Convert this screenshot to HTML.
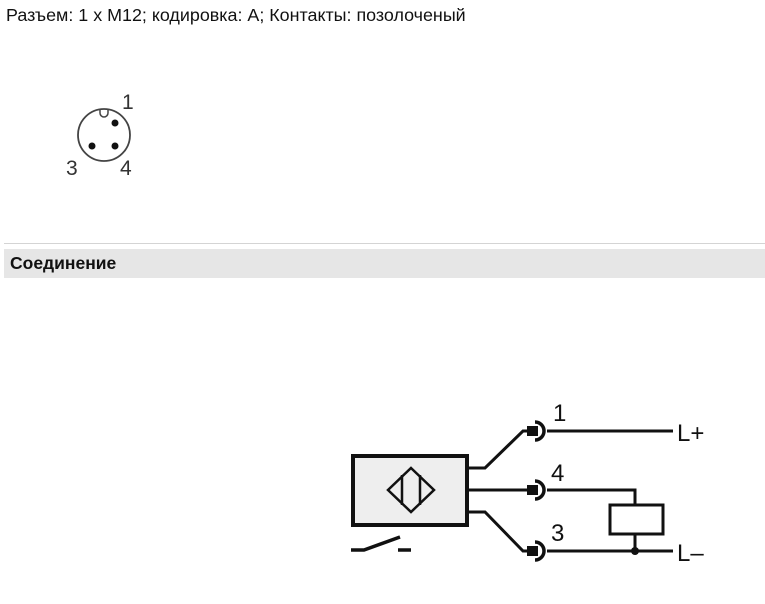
<!DOCTYPE html>
<html><head><meta charset="utf-8"><style>
body{margin:0;width:765px;height:604px;background:#fff;position:relative;overflow:hidden;font-family:"Liberation Sans",sans-serif;}
.t{position:absolute;left:6px;top:5px;font-size:17.9px;color:#111;white-space:nowrap;}
.hr{position:absolute;left:4px;right:0;top:243px;height:1px;background:#d4d4d4;}
.bar{position:absolute;left:4px;right:0;top:249px;height:29px;background:#e6e6e6;}
.bar span{position:absolute;left:6px;top:4px;font-size:17.5px;font-weight:bold;color:#111;}
svg{position:absolute;left:0;top:0;}
</style></head><body>
<div class="t">Разъем: 1 x M12; кодировка: A; Контакты: позолоченый</div>
<div class="hr"></div>
<div class="bar"><span>Соединение</span></div>
<svg width="765" height="604" font-family="Liberation Sans, sans-serif" fill="none" stroke="#111">
<circle cx="104" cy="135" r="26" stroke="#444" stroke-width="1.8"/>
<path d="M100,110 v3 a4,4 0 0 0 8,0 v-3" stroke="#444" stroke-width="1.5" fill="#fff"/>
<circle cx="115" cy="123" r="3.5" fill="#111" stroke="none"/>
<circle cx="92" cy="146" r="3.5" fill="#111" stroke="none"/>
<circle cx="115" cy="146" r="3.5" fill="#111" stroke="none"/>
<g fill="#333" stroke="none" font-size="21"><text x="122" y="109">1</text><text x="66" y="175">3</text><text x="120" y="175">4</text></g>

<rect x="353" y="456" width="114" height="69" fill="#eee" stroke-width="4"/>
<path d="M411,468 L434,490 L411,512 L388,490 Z" stroke-width="2.5"/>
<line x1="402" y1="475" x2="402" y2="505" stroke-width="2.5"/>
<line x1="420" y1="475" x2="420" y2="505" stroke-width="2.5"/>
<g stroke-width="3">
<polyline points="467,468 485,468 523,431 528,431"/>
<polyline points="467,490 528,490"/>
<polyline points="467,512 485,512 523,551 528,551"/>
<line x1="547" y1="431" x2="673" y2="431"/>
<polyline points="547,490 635,490 635,505"/>
<polyline points="635,534 635,551"/>
<line x1="547" y1="551" x2="673" y2="551"/>
<rect x="610" y="505" width="53" height="29"/>
</g>
<g stroke-width="3.5">
<path d="M535,422 a9,9 0 0 1 0,18"/>
<path d="M535,481 a9,9 0 0 1 0,18"/>
<path d="M535,542 a9,9 0 0 1 0,18"/>
<polyline points="351,550 364,550 400,537"/>
<line x1="398" y1="550" x2="411" y2="550"/>
</g>
<g fill="#111" stroke="none">
<rect x="527" y="426" width="11" height="10"/>
<rect x="527" y="485" width="11" height="10"/>
<rect x="527" y="546" width="11" height="10"/>
<circle cx="635" cy="551" r="4"/>
</g>
<g fill="#111" stroke="none" font-size="24">
<text x="553" y="421">1</text><text x="551" y="481">4</text><text x="551" y="541">3</text>
<text x="677" y="441">L+</text><text x="677" y="561">L–</text>
</g>
</svg>
</body></html>
